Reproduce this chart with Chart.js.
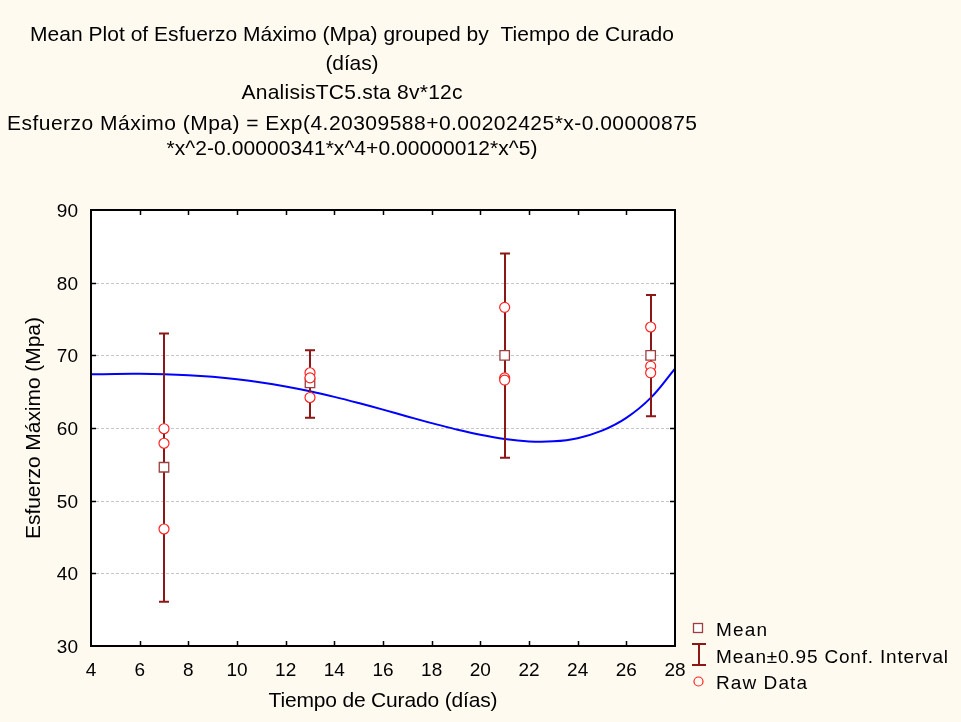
<!DOCTYPE html>
<html>
<head>
<meta charset="utf-8">
<title>Mean Plot of Esfuerzo Máximo</title>
<script src="https://cdn.jsdelivr.net/npm/chart.js@4.4.1/dist/chart.umd.min.js"></script>
<style>
    html, body { margin: 0; padding: 0; background: #fffaf0; }
    canvas { display: block; }
</style>
</head>
<body>
<canvas id="meanPlot" width="961" height="722"></canvas>
<script>
// Curing time groups and their statistics
const groups = [7, 13, 21, 27];
const means = [54.6, 66.2, 70.0, 70.0];
const ciLow = [36.1, 61.4, 55.9, 61.6];
const ciHigh = [73.0, 70.7, 84.0, 78.3];

// Raw observations (12 cases)
const rawX = [7, 7, 7, 13, 13, 13, 21, 21, 21, 27, 27, 27];
const rawY = [59.9, 57.9, 46.1, 67.6, 66.9, 64.2, 76.6, 66.9, 66.6, 73.9, 68.5, 67.6];

// Fitted curve, sampled per day
const curveX = [4, 5, 6, 7, 8, 9, 10, 11, 12, 13, 14, 15, 16, 17, 18, 19, 20, 21, 22, 23, 24, 25, 26, 27, 28];
const curveY = [67.38, 67.44, 67.45, 67.40, 67.27, 67.04, 66.71, 66.27, 65.71, 65.05, 64.28, 63.43, 62.53,
                61.59, 60.67, 59.81, 59.06, 58.48, 58.15, 58.16, 58.60, 59.63, 61.39, 64.14, 68.18];

const xTicks = [4, 6, 8, 10, 12, 14, 16, 18, 20, 22, 24, 26, 28];
const yTicks = [30, 40, 50, 60, 70, 80, 90];

const titleLines = [
    "Mean Plot of Esfuerzo Máximo (Mpa) grouped by  Tiempo de Curado",
    "(días)",
    "AnalisisTC5.sta 8v*12c",
    "Esfuerzo Máximo (Mpa) = Exp(4.20309588+0.00202425*x-0.00000875",
    "*x^2-0.00000341*x^4+0.00000012*x^5)"
];

const FONT = '"Liberation Sans", Arial, Helvetica, sans-serif';
const BAR_COLOR = "#8c1717";
const MEAN_COLOR = "#9c3f3f";
const RAW_COLOR = "#ff2121";

// draws text stretched to a given width with letter spacing
function drawText(ctx, text, x, y, size, width, align) {
    ctx.font = size + "px " + FONT;
    ctx.letterSpacing = "0px";
    let natural = ctx.measureText(text).width;
    let w = width || natural;
    let spacing = width ? (width - natural) / (text.length - 1) : 0;
    ctx.letterSpacing = spacing + "px";
    ctx.textAlign = "left";
    let left = x;
    if (align === "center") left = x - w / 2;
    if (align === "right") left = x - w;
    ctx.fillText(text, left, y);
    ctx.letterSpacing = "0px";
}

const framePlugin = {
    id: "frame",
    beforeDatasetsDraw(chart) {
        const { ctx, chartArea: a, scales: { y } } = chart;
        ctx.save();
        ctx.fillStyle = "#ffffff";
        ctx.fillRect(a.left, a.top, a.width, a.height);
        ctx.strokeStyle = "#c6c6c6";
        ctx.lineWidth = 1;
        ctx.setLineDash([3, 2]);
        yTicks.slice(1, -1).forEach(v => {
            let py = Math.round(y.getPixelForValue(v)) + 0.5;
            ctx.beginPath();
            ctx.moveTo(a.left, py);
            ctx.lineTo(a.right, py);
            ctx.stroke();
        });
        ctx.restore();
    },
    afterDatasetDraw(chart, args) {
        if (args.index !== 0) return;
        const { ctx, scales: { x, y } } = chart;
        ctx.save();
        ctx.strokeStyle = BAR_COLOR;
        ctx.lineWidth = 2;
        groups.forEach((g, i) => {
            let px = Math.round(x.getPixelForValue(g));
            let top = y.getPixelForValue(ciHigh[i]);
            let bottom = y.getPixelForValue(ciLow[i]);
            ctx.beginPath();
            ctx.moveTo(px, top);
            ctx.lineTo(px, bottom);
            ctx.moveTo(px - 5, top);
            ctx.lineTo(px + 5, top);
            ctx.moveTo(px - 5, bottom);
            ctx.lineTo(px + 5, bottom);
            ctx.stroke();
        });
        ctx.restore();
    },
    afterDraw(chart) {
        const { ctx, chartArea: a, scales: { x, y } } = chart;
        ctx.save();

        // inward tick marks on all four sides
        ctx.strokeStyle = "#000000";
        ctx.lineWidth = 1.5;
        ctx.beginPath();
        xTicks.slice(1, -1).forEach(v => {
            let px = Math.round(x.getPixelForValue(v)) + 0.5;
            ctx.moveTo(px, a.bottom); ctx.lineTo(px, a.bottom - 5);
            ctx.moveTo(px, a.top); ctx.lineTo(px, a.top + 5);
        });
        yTicks.slice(1, -1).forEach(v => {
            let py = Math.round(y.getPixelForValue(v)) + 0.5;
            ctx.moveTo(a.left, py); ctx.lineTo(a.left + 5, py);
            ctx.moveTo(a.right, py); ctx.lineTo(a.right - 5, py);
        });
        ctx.stroke();

        ctx.lineWidth = 2;
        ctx.strokeRect(a.left, a.top, a.width, a.height);

        // tick labels
        ctx.fillStyle = "#000000";
        ctx.textBaseline = "alphabetic";
        ctx.font = "19px " + FONT;
        xTicks.forEach(v => {
            ctx.textAlign = "center";
            ctx.fillText(String(v), x.getPixelForValue(v), a.bottom + 30);
        });
        yTicks.forEach(v => {
            ctx.textAlign = "right";
            ctx.fillText(String(v), a.left - 13, y.getPixelForValue(v) + 7);
        });

        // axis titles
        drawText(ctx, "Tiempo de Curado (días)", (a.left + a.right) / 2, 707, 21, 229, "center");
        ctx.save();
        ctx.translate(39.5, (a.top + a.bottom) / 2);
        ctx.rotate(-Math.PI / 2);
        drawText(ctx, "Esfuerzo Máximo (Mpa)", 0, 0, 21, 222, "center");
        ctx.restore();

        // titles
        const titleBase = [41, 70, 99, 130, 155];
        const titleWidth = [644, 53, 221, 690, 371];
        titleLines.forEach((t, i) => {
            drawText(ctx, t, 352, titleBase[i], 21, titleWidth[i], "center");
        });

        // legend
        ctx.lineWidth = 1.3;
        ctx.strokeStyle = MEAN_COLOR;
        ctx.fillStyle = "#ffffff";
        ctx.fillRect(693.5, 623.5, 9, 9);
        ctx.strokeRect(693.5, 623.5, 9, 9);

        ctx.strokeStyle = BAR_COLOR;
        ctx.lineWidth = 2;
        ctx.beginPath();
        ctx.moveTo(699, 644); ctx.lineTo(699, 665);
        ctx.moveTo(692, 644); ctx.lineTo(706, 644);
        ctx.moveTo(692, 665); ctx.lineTo(706, 665);
        ctx.stroke();

        ctx.strokeStyle = RAW_COLOR;
        ctx.lineWidth = 1.2;
        ctx.beginPath();
        ctx.arc(698.5, 681.5, 4.5, 0, Math.PI * 2);
        ctx.stroke();

        ctx.fillStyle = "#000000";
        drawText(ctx, "Mean", 716, 636, 19, 51, "left");
        drawText(ctx, "Mean±0.95 Conf. Interval", 716, 663, 19, 232, "left");
        drawText(ctx, "Raw Data", 716, 689, 19, 91, "left");

        ctx.restore();
    }
};

const ctx = document.getElementById("meanPlot").getContext("2d");

new Chart(ctx, {
    type: "scatter",
    data: {
        datasets: [
            {
                label: "Fit",
                data: curveX.map((v, i) => ({ x: v, y: curveY[i] })),
                showLine: true,
                borderColor: "#0000ff",
                borderWidth: 2,
                pointRadius: 0,
                tension: 0.4,
                order: 3
            },
            {
                label: "Mean",
                data: groups.map((v, i) => ({ x: v, y: means[i] })),
                pointStyle: "rect",
                pointRadius: 6.7,
                borderWidth: 1.3,
                borderColor: MEAN_COLOR,
                backgroundColor: "#ffffff",
                order: 2
            },
            {
                label: "Raw Data",
                data: rawX.map((v, i) => ({ x: v, y: rawY[i] })),
                pointStyle: "circle",
                pointRadius: 5,
                borderWidth: 1.2,
                borderColor: RAW_COLOR,
                backgroundColor: "#ffffff",
                order: 1
            }
        ]
    },
    options: {
        responsive: false,
        animation: false,
        events: [],
        layout: {
            padding: { left: 91, right: 286, top: 210, bottom: 76 }
        },
        plugins: {
            legend: { display: false },
            tooltip: { enabled: false },
            title: { display: false }
        },
        scales: {
            x: {
                type: "linear",
                min: 4,
                max: 28,
                ticks: { display: false, stepSize: 2 },
                grid: { display: false, drawTicks: false },
                border: { display: false },
                afterFit(scale) { scale.height = 0; }
            },
            y: {
                type: "linear",
                min: 30,
                max: 90,
                ticks: { display: false, stepSize: 10 },
                grid: { display: false, drawTicks: false },
                border: { display: false },
                afterFit(scale) { scale.width = 0; }
            }
        }
    },
    plugins: [framePlugin]
});
</script>
</body>
</html>
